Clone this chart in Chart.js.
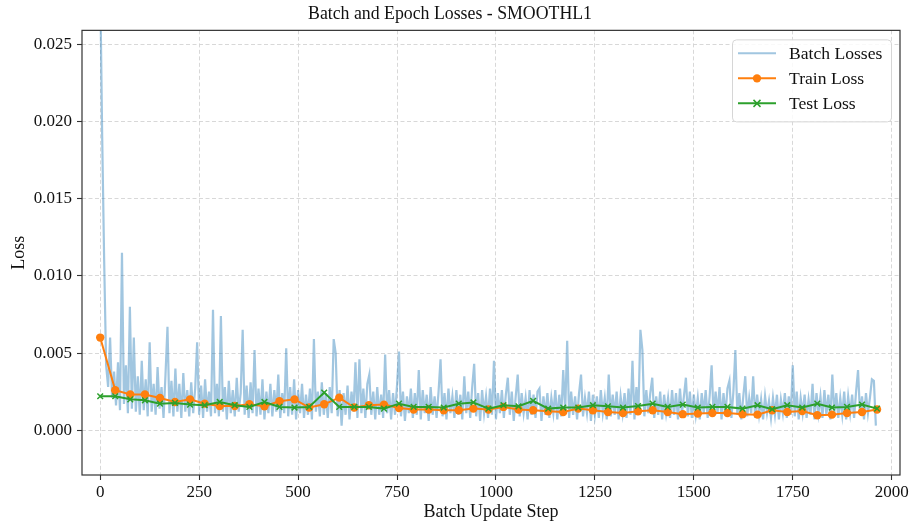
<!DOCTYPE html>
<html>
<head>
<meta charset="utf-8">
<title>Batch and Epoch Losses</title>
<script src="https://cdn.jsdelivr.net/npm/chart.js@4.4.1/dist/chart.umd.min.js"></script>
<style>
  body { margin: 0; background: #fff; }
  canvas { display: block; }
</style>
</head>
<body>
<canvas id="loss-chart" width="911" height="525"></canvas>
<script>
// loss of every 5th batch update (steps 0, 5, 10, ...)
const BATCH_STRIDE = 5;
const batchLoss = [
  0.0290, 0.0190, 0.0110, 0.0042, 0.0028, 0.0060, 0.0021, 0.0038, 0.0016, 0.0044, 0.0013, 0.0115, 0.0017, 0.0042, 0.0011, 0.0080, 0.0014, 0.0060, 0.0012, 0.0035,
  0.0010, 0.0045, 0.0013, 0.0033, 0.0009, 0.0057, 0.0012, 0.0030, 0.0010, 0.0041, 0.0014, 0.0028, 0.0008, 0.0036, 0.0067, 0.0011, 0.0032, 0.0009, 0.0040, 0.0012,
  0.0030, 0.0008, 0.0037, 0.0012, 0.0026, 0.0009, 0.0031, 0.0011, 0.0027, 0.0057, 0.0010, 0.0029, 0.0008, 0.0033, 0.0012, 0.0025, 0.0009, 0.0078, 0.0011, 0.0030,
  0.0009, 0.0074, 0.0012, 0.0028, 0.0007, 0.0032, 0.0011, 0.0026, 0.0009, 0.0034, 0.0012, 0.0024, 0.0065, 0.0010, 0.0029, 0.0008, 0.0031, 0.0011, 0.0052, 0.0009,
  0.0027, 0.0010, 0.0033, 0.0007, 0.0025, 0.0011, 0.0030, 0.0009, 0.0026, 0.0012, 0.0036, 0.0008, 0.0024, 0.0011, 0.0053, 0.0009, 0.0028, 0.0010, 0.0033, 0.0007,
  0.0026, 0.0011, 0.0030, 0.0008, 0.0023, 0.0010, 0.0027, 0.0007, 0.0059, 0.0012, 0.0025, 0.0009, 0.0031, 0.0010, 0.0024, 0.0008, 0.0028, 0.0011, 0.0059, 0.0050,
  0.0009, 0.0026, 0.0003, 0.0024, 0.0010, 0.0029, 0.0007, 0.0025, 0.0012, 0.0044, 0.0008, 0.0046, 0.0011, 0.0027, 0.0008, 0.0030, 0.0036, 0.0010, 0.0025, 0.0007,
  0.0028, 0.0010, 0.0023, 0.0008, 0.0049, 0.0011, 0.0026, 0.0007, 0.0024, 0.0010, 0.0029, 0.0051, 0.0009, 0.0025, 0.0006, 0.0022, 0.0011, 0.0027, 0.0008, 0.0024,
  0.0010, 0.0039, 0.0007, 0.0026, 0.0011, 0.0023, 0.0006, 0.0028, 0.0010, 0.0022, 0.0008, 0.0025, 0.0046, 0.0009, 0.0024, 0.0007, 0.0027, 0.0011, 0.0022, 0.0008,
  0.0026, 0.0010, 0.0023, 0.0007, 0.0035, 0.0011, 0.0025, 0.0008, 0.0028, 0.0043, 0.0009, 0.0024, 0.0006, 0.0026, 0.0011, 0.0022, 0.0008, 0.0027, 0.0010, 0.0045,
  0.0007, 0.0024, 0.0011, 0.0026, 0.0008, 0.0023, 0.0034, 0.0010, 0.0025, 0.0006, 0.0022, 0.0036, 0.0009, 0.0024, 0.0011, 0.0021, 0.0007, 0.0026, 0.0010, 0.0023,
  0.0008, 0.0025, 0.0027, 0.0006, 0.0022, 0.0010, 0.0024, 0.0008, 0.0021, 0.0011, 0.0026, 0.0007, 0.0023, 0.0009, 0.0039, 0.0012, 0.0058, 0.0008, 0.0025, 0.0010,
  0.0022, 0.0007, 0.0024, 0.0036, 0.0009, 0.0021, 0.0011, 0.0025, 0.0006, 0.0023, 0.0010, 0.0022, 0.0008, 0.0026, 0.0011, 0.0021, 0.0007, 0.0036, 0.0009, 0.0023,
  0.0010, 0.0025, 0.0007, 0.0022, 0.0011, 0.0024, 0.0008, 0.0027, 0.0010, 0.0045, 0.0007, 0.0028, 0.0012, 0.0065, 0.0052, 0.0009, 0.0026, 0.0011, 0.0024, 0.0034,
  0.0008, 0.0022, 0.0010, 0.0025, 0.0007, 0.0023, 0.0011, 0.0021, 0.0008, 0.0026, 0.0010, 0.0024, 0.0007, 0.0027, 0.0011, 0.0022, 0.0034, 0.0009, 0.0025, 0.0008,
  0.0023, 0.0010, 0.0021, 0.0007, 0.0024, 0.0011, 0.0026, 0.0008, 0.0022, 0.0042, 0.0009, 0.0025, 0.0011, 0.0028, 0.0007, 0.0024, 0.0010, 0.0027, 0.0032, 0.0008,
  0.0025, 0.0052, 0.0010, 0.0024, 0.0007, 0.0022, 0.0035, 0.0009, 0.0021, 0.0011, 0.0035, 0.0008, 0.0023, 0.0010, 0.0020, 0.0007, 0.0022, 0.0011, 0.0019, 0.0008,
  0.0021, 0.0010, 0.0023, 0.0007, 0.0020, 0.0011, 0.0024, 0.0008, 0.0022, 0.0010, 0.0042, 0.0009, 0.0025, 0.0007, 0.0021, 0.0011, 0.0023, 0.0008, 0.0020, 0.0010,
  0.0030, 0.0007, 0.0024, 0.0011, 0.0022, 0.0008, 0.0026, 0.0010, 0.0023, 0.0007, 0.0036, 0.0011, 0.0024, 0.0008, 0.0021, 0.0010, 0.0025, 0.0007, 0.0022, 0.0011,
  0.0023, 0.0008, 0.0025, 0.0039, 0.0010, 0.0022, 0.0007, 0.0024, 0.0011, 0.0021, 0.0033, 0.0032, 0.0003
];

// batch step at which each epoch loss was logged
const epochSteps = [
  0, 38, 76, 113, 151, 189, 227, 264, 302, 340, 377, 415, 453, 491, 528, 566, 604, 642,
  679, 717, 755, 792, 830, 868, 906, 943, 981, 1019, 1057, 1094, 1132, 1170, 1208, 1245,
  1283, 1321, 1359, 1396, 1434, 1472, 1510, 1547, 1585, 1623, 1661, 1698, 1736, 1774,
  1812, 1849, 1887, 1925, 1963
];
const trainLoss = [
  0.00600, 0.00259, 0.00231, 0.00231, 0.00209, 0.00183, 0.00200, 0.00172, 0.00157, 0.00157,
  0.00168, 0.00155, 0.00188, 0.00200, 0.00147, 0.00168, 0.00211, 0.00147, 0.00162, 0.00166,
  0.00144, 0.00134, 0.00134, 0.00129, 0.00129, 0.00140, 0.00134, 0.00151, 0.00134, 0.00129,
  0.00123, 0.00118, 0.00140, 0.00129, 0.00118, 0.00112, 0.00123, 0.00129, 0.00118, 0.00104,
  0.00108, 0.00112, 0.00112, 0.00104, 0.00101, 0.00129, 0.00118, 0.00125, 0.00097, 0.00101,
  0.00112, 0.00118, 0.00134
];
const testLoss = [
  0.00220, 0.00220, 0.00200, 0.00194, 0.00172, 0.00177, 0.00166, 0.00162, 0.00183, 0.00162,
  0.00151, 0.00183, 0.00151, 0.00147, 0.00151, 0.00244, 0.00151, 0.00151, 0.00151, 0.00140,
  0.00172, 0.00151, 0.00151, 0.00147, 0.00172, 0.00180, 0.00140, 0.00162, 0.00155, 0.00190,
  0.00140, 0.00147, 0.00147, 0.00162, 0.00155, 0.00147, 0.00157, 0.00172, 0.00151, 0.00166,
  0.00147, 0.00151, 0.00151, 0.00140, 0.00162, 0.00136, 0.00162, 0.00147, 0.00172, 0.00147,
  0.00151, 0.00166, 0.00140
];

const xTicks = [0, 250, 500, 750, 1000, 1250, 1500, 1750, 2000];
const yTicks = [0.000, 0.005, 0.010, 0.015, 0.020, 0.025];

const SERIF = "'Liberation Serif', 'DejaVu Serif', serif";

const batchPoints = batchLoss.map((v, i) => ({x: i * BATCH_STRIDE, y: v}));
const trainPoints = epochSteps.map((s, i) => ({x: s, y: trainLoss[i]}));
const testPoints = epochSteps.map((s, i) => ({x: s, y: testLoss[i]}));

// box round the plot area, drawn over the lines like matplotlib spines
const frame = {
  id: 'frame',
  afterDatasetsDraw(chart) {
    const {ctx, chartArea: a} = chart;
    ctx.save();
    ctx.strokeStyle = '#333';
    ctx.lineWidth = 1.2;
    ctx.strokeRect(a.left, a.top, a.right - a.left, a.bottom - a.top);
    ctx.restore();
  }
};

// legend in the upper right corner of the axes
const legendBox = {
  id: 'legendBox',
  afterDraw(chart) {
    const ctx = chart.ctx;
    const a = chart.chartArea;
    const w = 159, h = 82;
    const x0 = a.right - w - 9, y0 = a.top + 9;
    ctx.save();
    ctx.fillStyle = 'rgba(255,255,255,0.85)';
    ctx.strokeStyle = '#d6d6d6';
    ctx.lineWidth = 1;
    ctx.beginPath();
    ctx.roundRect(x0 + 0.5, y0 + 0.5, w, h, 4);
    ctx.fill();
    ctx.stroke();

    const rows = chart.data.datasets;
    ctx.font = '17.6px ' + SERIF;
    ctx.textBaseline = 'middle';
    rows.forEach((ds, i) => {
      const y = y0 + 14 + i * 25;
      const lx = x0 + 6, rx = x0 + 44, mx = (lx + rx) / 2;
      ctx.strokeStyle = ds.borderColor;
      ctx.lineWidth = Math.min(ds.borderWidth, 2);
      ctx.beginPath();
      ctx.moveTo(lx, y);
      ctx.lineTo(rx, y);
      ctx.stroke();
      if (ds.pointStyle === 'circle') {
        ctx.fillStyle = ds.pointBackgroundColor;
        ctx.beginPath();
        ctx.arc(mx, y, 4.2, 0, Math.PI * 2);
        ctx.fill();
      } else if (ds.pointStyle === 'crossRot') {
        ctx.lineWidth = 1.5;
        ctx.beginPath();
        ctx.moveTo(mx - 3.5, y - 3.5); ctx.lineTo(mx + 3.5, y + 3.5);
        ctx.moveTo(mx + 3.5, y - 3.5); ctx.lineTo(mx - 3.5, y + 3.5);
        ctx.stroke();
      }
      ctx.fillStyle = '#111';
      ctx.fillText(ds.label, x0 + 57, y + 1);
    });
    ctx.restore();
  }
};

const gridOpts = {
  color: '#d4d4d4',
  lineWidth: 0.9,
  drawTicks: true,
  tickLength: 5,
  tickColor: '#333',
  tickWidth: 1.1,
  tickBorderDash: []
};

const ctx = document.getElementById('loss-chart').getContext('2d');
const chart = new Chart(ctx, {
  type: 'line',
  data: {
    datasets: [
      {
        label: 'Batch Losses',
        data: batchPoints,
        borderColor: 'rgba(31, 119, 180, 0.42)',
        borderWidth: 2.2,
        pointRadius: 0,
        pointStyle: false,
        tension: 0,
        order: 3
      },
      {
        label: 'Train Loss',
        data: trainPoints,
        borderColor: '#ff7f0e',
        borderWidth: 2,
        pointStyle: 'circle',
        pointRadius: 4.2,
        pointBackgroundColor: '#ff7f0e',
        pointBorderColor: '#ff7f0e',
        pointBorderWidth: 0,
        tension: 0,
        order: 2
      },
      {
        label: 'Test Loss',
        data: testPoints,
        borderColor: '#2ca02c',
        borderWidth: 2,
        pointStyle: 'crossRot',
        pointRadius: 4,
        pointBorderColor: '#2ca02c',
        pointBorderWidth: 1.5,
        tension: 0,
        order: 1
      }
    ]
  },
  options: {
    responsive: false,
    animation: false,
    devicePixelRatio: 1,
    layout: {padding: {left: 0, right: 11, top: 0, bottom: 0}},
    plugins: {
      legend: {display: false},
      tooltip: {enabled: false},
      title: {
        display: true,
        text: 'Batch and Epoch Losses - SMOOTHL1',
        color: '#111',
        font: {family: SERIF, size: 17.8, weight: 'normal', lineHeight: 1.2},
        padding: {top: 4, bottom: 5}
      }
    },
    scales: {
      x: {
        type: 'linear',
        min: -46,
        max: 2021,
        afterBuildTicks: (scale) => { scale.ticks = xTicks.map(v => ({value: v})); },
        afterFit: (scale) => { scale.height = 50; },
        grid: gridOpts,
        border: {display: false, dash: [4, 2.5]},
        ticks: {
          color: '#111',
          font: {family: SERIF, size: 17},
          padding: 2,
          maxRotation: 0,
          callback: (v) => String(v)
        },
        title: {
          display: true,
          text: 'Batch Update Step',
          color: '#111',
          font: {family: SERIF, size: 18},
          padding: {top: 0, bottom: 2}
        }
      },
      y: {
        type: 'linear',
        min: -0.0029,
        max: 0.0259,
        afterBuildTicks: (scale) => { scale.ticks = yTicks.map(v => ({value: v})); },
        afterFit: (scale) => { scale.width = 82; },
        grid: gridOpts,
        border: {display: false, dash: [4, 2.5]},
        ticks: {
          color: '#111',
          font: {family: SERIF, size: 17},
          padding: 5,
          callback: (v) => v.toFixed(3)
        },
        title: {
          display: true,
          text: 'Loss',
          color: '#111',
          font: {family: SERIF, size: 18},
          padding: {top: 8, bottom: 0}
        }
      }
    }
  },
  plugins: [frame, legendBox]
});
</script>
</body>
</html>
